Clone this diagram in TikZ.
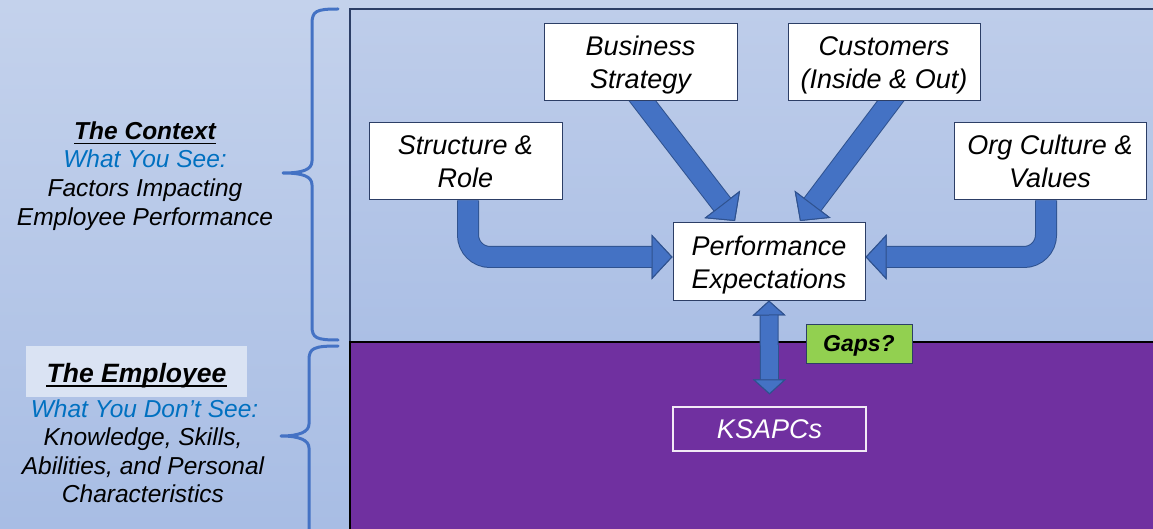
\documentclass[tikz,border=0pt]{standalone}
\usepackage{fontspec}
\setmainfont{Liberation Sans}
\usetikzlibrary{arrows.meta}

\definecolor{bgtop}{RGB}{196,210,236}
\definecolor{bgbot}{RGB}{168,189,228}
\definecolor{frtop}{RGB}{190,205,234}
\definecolor{frbot}{RGB}{171,191,229}
\definecolor{purp}{RGB}{112,48,160}
\definecolor{arrblue}{RGB}{68,114,196}
\definecolor{arrnavy}{RGB}{47,82,143}
\definecolor{boxline}{RGB}{44,62,102}
\definecolor{txtblue}{RGB}{0,112,192}
\definecolor{gapgreen}{RGB}{146,208,80}
\definecolor{empfill}{RGB}{218,227,243}
\definecolor{bracecol}{RGB}{68,114,196}

\pgfdeclarelayer{back}
\pgfdeclarelayer{arrows}
\pgfsetlayers{back,arrows,main}

\tikzset{
  bigtip/.tip={Triangle[length=21pt 0 0, width=45pt 0 0, line width=1pt 0 0, color=arrnavy, fill=arrblue]},
  dbltip/.tip={Triangle[length=15pt 0 0, width=33pt 0 0, line width=1pt 0 0, color=arrnavy, fill=arrblue]},
  fat/.style={line width=20pt, draw=arrblue, -bigtip,
    preaction={draw=arrnavy, line width=22pt}},
  fatboth/.style={line width=17pt, draw=arrblue, dbltip-dbltip,
    preaction={draw=arrnavy, line width=19pt}},
  factor/.style={draw=boxline, line width=1pt, fill=white, minimum width=193pt,
    minimum height=77pt, inner sep=0pt, align=center,
    text height=59pt, text depth=6pt,
    font=\itshape\fontsize{27}{33}\selectfont},
  sidetxt/.style={anchor=base, inner sep=0pt, font=\itshape\fontsize{24.5}{29}\selectfont},
  sidehead/.style={anchor=base, inner sep=0pt, font=\bfseries\itshape\fontsize{24.5}{29}\selectfont},
  ulinestyle/.style={line width=1.8pt, black},
  bracestyle/.style={draw=bracecol, line width=3pt, line cap=round, line join=round},
}

\begin{document}
\begin{tikzpicture}[x=1pt,y=-1pt]
\useasboundingbox (0,0) rectangle (1153,529);

% backdrop, frame and the two bands
\begin{pgfonlayer}{back}
  \shade[top color=bgtop, bottom color=bgbot] (0,0) rectangle (1153,529);
  \shade[top color=frtop, bottom color=frbot] (350,9) rectangle (1160,342);
  \draw[boxline, line width=1.5pt] (350,342) -- (350,9) -- (1160,9);
  \fill[purp] (350,342) rectangle (1160,535);
  \draw[black, line width=1.5pt] (350,535) -- (350,342) -- (1160,342);
\end{pgfonlayer}

% braces
\draw[bracestyle] (338,9) .. controls (316,9) and (312,11) .. (312,24)
  -- (312,161) .. controls (312,170) and (302,173) .. (283,173)
  .. controls (302,173) and (312,176) .. (312,185)
  -- (312,326) .. controls (312,338) and (316,340) .. (338,340);
\draw[bracestyle] (338,346) .. controls (314,346) and (309,348) .. (309,360)
  -- (309,424) .. controls (309,432) and (299,436) .. (281,436)
  .. controls (299,436) and (309,440) .. (309,448)
  -- (309,540);

% left-hand captions
\node[sidehead] (ctx) at (145,140) {The Context};
\draw[ulinestyle] ([yshift=-3.5pt]ctx.base west) -- ([yshift=-3.5pt]ctx.base east);
\node[sidetxt, text=txtblue] (see) at (145,168) {What You See:};
\node[sidetxt] (fac1) at (145,197) {Factors Impacting};
\node[sidetxt] (fac2) at (145,226) {Employee Performance};

\node[fill=empfill, minimum width=221pt, minimum height=51pt, inner sep=0pt] (empbox) at (136.5,371.5) {};
\node[anchor=base, inner sep=0pt, font=\bfseries\itshape\fontsize{26.5}{30}\selectfont] (emp) at (136.5,382) {The Employee};
\draw[ulinestyle] ([yshift=-4pt]emp.base west) -- ([yshift=-4pt]emp.base east);
\node[sidetxt, text=txtblue] (dont) at (144.5,417) {What You Don’t See:};
\node[sidetxt] (ks1) at (143,445.5) {Knowledge, Skills,};
\node[sidetxt] (ks2) at (143,474) {Abilities, and Personal};
\node[sidetxt] (ks3) at (143,502.5) {Characteristics};

% factor boxes
\node[factor] (bs) at (640.5,62.5) {Business\\Strategy};
\node[factor, minimum width=192pt] (cust) at (884,62.5) {Customers\\(Inside \& Out)};
\node[factor] (struct) at (465.5,161.5) {Structure \&\\Role};
\node[factor, minimum width=192pt] (org) at (1050,161.5) {Org Culture \&\\Values};
\node[factor, minimum width=192pt] (perf) at (769,261.5) {Performance\\Expectations};

\node[draw=boxline, line width=1pt, fill=gapgreen, minimum width=106pt, minimum height=39pt,
  inner sep=0pt, text height=16.5pt, text depth=0pt,
  font=\bfseries\itshape\fontsize{23}{27}\selectfont] (gaps) at (859,343.5) {Gaps?};
\node[draw=white!90!purp, line width=1.2pt, fill=purp, text=white, minimum width=193pt,
  minimum height=44pt, inner sep=0pt, font=\itshape\fontsize{27}{32}\selectfont] (ksa) at (769.5,429) {KSAPCs};

% block arrows into the expectations box
\coordinate (bstip) at (735,221);
\coordinate (custtip) at (800,221);
\begin{pgfonlayer}{arrows}
  \draw[fat] ([xshift=-4.5pt,yshift=9pt]bs.south) -- (bstip);
  \draw[fat] ([xshift=13pt,yshift=9pt]cust.south) -- (custtip);
  \draw[fat, rounded corners=22pt] ([xshift=2.5pt]struct.south) |- ([yshift=4.5pt]perf.west);
  \draw[fat, rounded corners=22pt] ([xshift=-4pt]org.south) |- ([yshift=4.5pt]perf.east);
  \draw[fatboth] (perf.south) -- ([yshift=12pt]ksa.north);
\end{pgfonlayer}
\end{tikzpicture}
\end{document}
